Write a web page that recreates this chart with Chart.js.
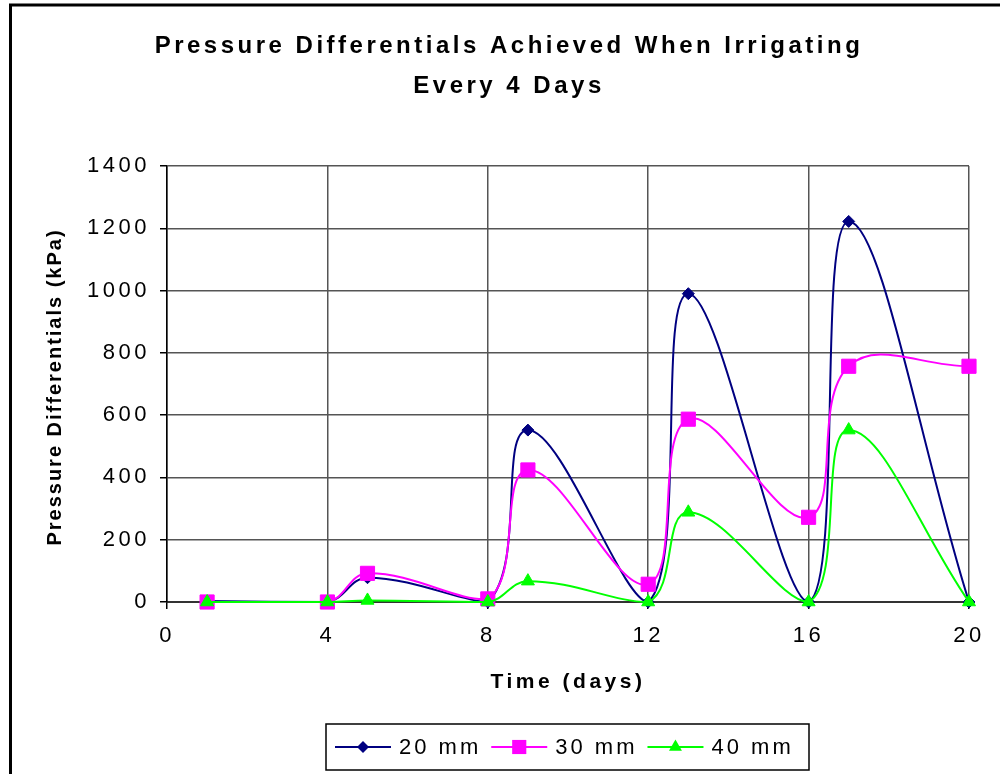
<!DOCTYPE html>
<html lang="en">
<head>
<meta charset="UTF-8">
<title>Pressure Differentials Achieved When Irrigating Every 4 Days</title>
<script src="https://cdn.jsdelivr.net/npm/chart.js"></script>
<style>
  html, body { margin: 0; padding: 0; background: #fff; }
  canvas { display: block; }
</style>
</head>
<body>
<canvas id="chart" width="1000" height="774"></canvas>
<script>
// days on which readings were taken
const days = [1, 4, 5, 8, 9, 12, 13, 16, 17, 20];
// pressure differential (kPa) for each irrigation depth
const mm20 = [3, 0, 78, 0, 552, 0, 990, 0, 1222, 0];
const mm30 = [0, 0, 92, 10, 424, 57, 587, 272, 757, 757];
const mm40 = [0, 0, 5, 0, 67, 0, 288, 0, 552, 0];
const seriesNames = ['20 mm', '30 mm', '40 mm'];
const xTicks = [0, 4, 8, 12, 16, 20];
const yTicks = [0, 200, 400, 600, 800, 1000, 1200, 1400];

const FONT = '"Liberation Sans", Arial, sans-serif';

function series(label, values, color, style, radius, order) {
    return {
        label: label,
        data: days.map((d, i) => ({ x: d, y: values[i] })),
        borderColor: color,
        backgroundColor: color,
        borderWidth: 2,
        pointStyle: style,
        pointRadius: radius,
        pointHoverRadius: radius,
        pointBorderWidth: 1,
        tension: 0.4,
        clip: 30,
        order: order
    };
}

// frame, y-axis title, legend box and the wide letter spacing
const decorations = {
    id: 'decorations',
    beforeDraw(chart) {
        chart.ctx.letterSpacing = '3.5px';
    },
    afterDraw(chart) {
        const ctx = chart.ctx;
        ctx.save();
        ctx.strokeStyle = '#000';
        ctx.lineWidth = 3;
        ctx.strokeRect(10.5, 5, 1200, 1200);

        ctx.letterSpacing = '2px';
        ctx.fillStyle = '#000';
        ctx.font = 'bold 20px ' + FONT;
        ctx.textAlign = 'center';
        ctx.textBaseline = 'middle';
        ctx.translate(55, 387);
        ctx.rotate(-Math.PI / 2);
        ctx.fillText('Pressure Differentials (kPa)', 0, 0);
        ctx.restore();

        // legend
        ctx.save();
        ctx.strokeStyle = '#000';
        ctx.lineWidth = 1.5;
        ctx.strokeRect(326, 724, 483, 46);
        ctx.font = '22px ' + FONT;
        ctx.letterSpacing = '3px';
        ctx.textBaseline = 'middle';
        ctx.textAlign = 'left';
        const y = 747;
        let x = 335;
        chart.data.datasets.forEach(ds => {
            ctx.strokeStyle = ds.borderColor;
            ctx.fillStyle = ds.backgroundColor;
            ctx.lineWidth = 2;
            ctx.beginPath();
            ctx.moveTo(x, y);
            ctx.lineTo(x + 56, y);
            ctx.stroke();
            const cx = x + 28, r = ds.pointRadius;
            ctx.beginPath();
            if (ds.pointStyle === 'rectRot') {
                ctx.moveTo(cx, y - r); ctx.lineTo(cx + r, y);
                ctx.lineTo(cx, y + r); ctx.lineTo(cx - r, y);
            } else if (ds.pointStyle === 'rect') {
                const h = r * Math.SQRT1_2;
                ctx.rect(cx - h, y - h, 2 * h, 2 * h);
            } else {
                ctx.moveTo(cx, y - r);
                ctx.lineTo(cx + r * 0.866, y + r / 2);
                ctx.lineTo(cx - r * 0.866, y + r / 2);
            }
            ctx.closePath();
            ctx.fill();
            ctx.fillStyle = '#000';
            ctx.fillText(ds.label, x + 64, y + 1);
            x += 64 + ctx.measureText(ds.label).width + 10;
        });
        ctx.restore();
    }
};

new Chart(document.getElementById('chart'), {
    type: 'line',
    data: {
        datasets: [
            series(seriesNames[0], mm20, '#000080', 'rectRot', 6, 2),
            series(seriesNames[1], mm30, '#FF00FF', 'rect', 10, 1),
            series(seriesNames[2], mm40, '#00FF00', 'triangle', 7.5, 0)
        ]
    },
    options: {
        responsive: false,
        animation: false,
        devicePixelRatio: 1,
        layout: { padding: { left: 18, right: 0, top: 0, bottom: 0 } },
        plugins: {
            legend: { display: false },
            tooltip: { enabled: false },
            title: {
                display: true,
                text: ['Pressure Differentials Achieved When Irrigating', 'Every 4 Days'],
                color: '#000',
                font: { family: FONT, size: 24, weight: 'bold', lineHeight: 40 / 24 },
                padding: { top: 26, bottom: 60 }
            }
        },
        scales: {
            x: {
                type: 'linear',
                min: 0,
                max: 20,
                afterBuildTicks: s => { s.ticks = xTicks.map(v => ({ value: v })); },
                afterFit: s => { s.height = 172; s.paddingRight = 31; },
                ticks: {
                    color: '#000',
                    font: { family: FONT, size: 22 },
                    padding: 14,
                    maxRotation: 0,
                    callback: v => String(v)
                },
                grid: { color: '#555', lineWidth: 1.5, tickLength: 7, tickColor: '#000' },
                border: { color: '#333', width: 2 },
                title: {
                    display: true,
                    text: 'Time (days)',
                    color: '#000',
                    font: { family: FONT, size: 21, weight: 'bold' },
                    padding: { top: 0, bottom: 79 }
                }
            },
            y: {
                min: 0,
                max: 1400,
                afterBuildTicks: s => { s.ticks = yTicks.map(v => ({ value: v })); },
                afterFit: s => { s.width = 149; },
                ticks: {
                    color: '#000',
                    font: { family: FONT, size: 22 },
                    padding: 10,
                    callback: v => String(v)
                },
                grid: { color: '#555', lineWidth: 1.5, tickLength: 7, tickColor: '#000' },
                border: { color: '#000', width: 1.5 }
            }
        }
    },
    plugins: [decorations]
});
</script>
</body>
</html>
